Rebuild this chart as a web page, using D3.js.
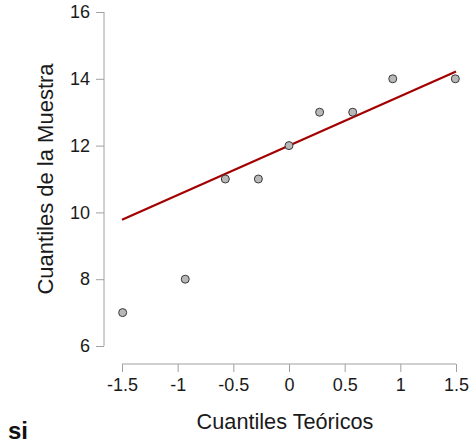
<!DOCTYPE html>
<html>
<head>
<meta charset="utf-8">
<script src="https://cdn.jsdelivr.net/npm/d3@7"></script>
<style>
  html, body { margin: 0; padding: 0; background: #fff; }
  svg { display: block; font-family: "Liberation Sans", Arial, sans-serif; }
</style>
</head>
<body>
<svg id="chart" width="475" height="444"></svg>
<script>
// Theoretical normal quantiles (Blom positions) and sorted sample values
const theoretical = [-1.494, -0.932, -0.572, -0.275, 0, 0.275, 0.572, 0.932, 1.494];
const sample = [7, 8, 11, 11, 12, 13, 13, 14, 14];
// Reference line through the quartiles, evaluated at the ends of the x range
const refLineX = [-1.5, 1.5];
const refLineY = [9.78, 14.22];
const xTicks = [-1.5, -1, -0.5, 0, 0.5, 1, 1.5];
const yTicks = [6, 8, 10, 12, 14, 16];

const svg = d3.select("#chart");

const x = d3.scaleLinear().domain([-1.5, 1.5]).range([122, 456]);
const y = d3.scaleLinear().domain([6, 16]).range([346, 12]);

const axisColor = "#a0a0a0";
const textColor = "#1a1a1a";

// Y axis, offset to the left of the plotting area
const yAxis = svg.append("g")
  .attr("transform", "translate(104,0)")
  .call(d3.axisLeft(y).tickValues(yTicks).tickSize(8).tickPadding(6).tickFormat(d3.format("d")));
yAxis.select(".domain").attr("stroke", axisColor).attr("d", `M0,${y(6)}H0V${y(16)}H0`);
yAxis.selectAll(".tick line").attr("stroke", axisColor);
yAxis.selectAll(".tick text").attr("fill", textColor).style("font-size", "18px")
  .style("font-family", "Liberation Sans, Arial, sans-serif");

// X axis, offset below the plotting area
const xAxis = svg.append("g")
  .attr("transform", "translate(0,364)")
  .call(d3.axisBottom(x).tickValues(xTicks).tickSize(8).tickPadding(6).tickFormat(d => String(d)));
xAxis.select(".domain").attr("stroke", axisColor).attr("d", `M${x(-1.5)},0V0H${x(1.5)}V0`);
xAxis.selectAll(".tick line").attr("stroke", axisColor);
xAxis.selectAll(".tick text").attr("fill", textColor).style("font-size", "18px")
  .style("font-family", "Liberation Sans, Arial, sans-serif");

// Axis titles
svg.append("text")
  .attr("x", x(0) - 4).attr("y", 429)
  .attr("text-anchor", "middle")
  .attr("fill", textColor)
  .style("font-size", "21.7px")
  .text("Cuantiles Teóricos");

svg.append("text")
  .attr("transform", `translate(53,${(y(6) + y(16)) / 2}) rotate(-90)`)
  .attr("text-anchor", "middle")
  .attr("fill", textColor)
  .style("font-size", "22px")
  .text("Cuantiles de la Muestra");

// Reference line
svg.append("line")
  .attr("x1", x(refLineX[0])).attr("y1", y(refLineY[0]))
  .attr("x2", x(refLineX[1])).attr("y2", y(refLineY[1]))
  .attr("stroke", "#a30000")
  .attr("stroke-width", 2.2);

// Sample points
svg.append("g").selectAll("circle")
  .data(theoretical.map((t, i) => ({ t, s: sample[i] })))
  .join("circle")
  .attr("cx", d => x(d.t))
  .attr("cy", d => y(d.s))
  .attr("r", 4)
  .attr("fill", "#b8b8b8")
  .attr("stroke", "#3a3a3a")
  .attr("stroke-width", 1);

// Corner label
svg.append("text")
  .attr("x", 8).attr("y", 439)
  .attr("fill", "#111")
  .style("font-size", "24px")
  .style("font-weight", "bold")
  .text("si");
</script>
</body>
</html>
